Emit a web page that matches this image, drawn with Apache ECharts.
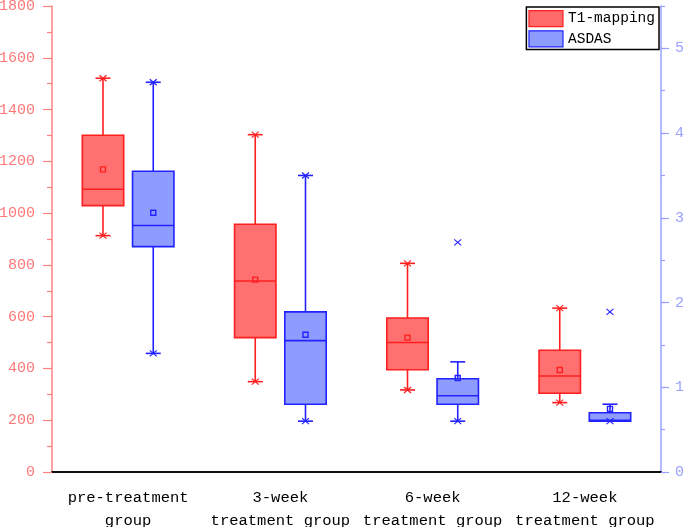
<!DOCTYPE html>
<html>
<head>
<meta charset="utf-8">
<script src="https://cdn.jsdelivr.net/npm/echarts@6/dist/echarts.min.js"></script>
<style>html,body{margin:0;padding:0;background:#fff}#c{width:685px;height:527px}</style>
</head>
<body>
<div id="c"></div>
<script>
// ---- data ----
const categories = ['pre-treatment\ngroup', '3-week\ntreatment group', '6-week\ntreatment group', '12-week\ntreatment group'];
// T1-mapping (left axis)
const t1WhiskerLow  = [913, 349, 317, 268];
const t1Q1          = [1029, 519, 395, 304];
const t1Median      = [1092, 738, 500, 371];
const t1Q3          = [1301, 957, 595, 470];
const t1WhiskerHigh = [1521, 1303, 806, 633];
const t1Mean        = [1169, 743, 519, 394];
const t1Min         = [913, 349, 317, 268];
const t1Max         = [1521, 1303, 806, 633];
// ASDAS (right axis)
const asdasWhiskerLow  = [1.40, 0.60, 0.60, 0.60];
const asdasQ1          = [2.66, 0.80, 0.80, 0.60];
const asdasMedian      = [2.91, 1.55, 0.90, 0.61];
const asdasQ3          = [3.55, 1.89, 1.10, 0.70];
const asdasWhiskerHigh = [4.60, 3.50, 1.30, 0.80];
const asdasMean        = [3.06, 1.62, 1.11, 0.745];
const asdasMin         = [1.40, 0.60, 0.60, 0.60];
const asdasMax         = [4.60, 3.50, 2.71, 1.89];

const leftTicks = {min: 0, max: 1800, interval: 200};
const rightTicks = {min: 0, max: 5.5, interval: 1};
const rightLabels = [0, 1, 2, 3, 4, 5];

function rows(lo, q1, med, q3, hi, mean, mn, mx) {
  return categories.map((c, i) => [i, lo[i], q1[i], med[i], q3[i], hi[i], mean[i], mn[i], mx[i]]);
}

function makeRender(fill, stroke, dir) {
  return function (params, api) {
    const idx = api.value(0);
    const band = api.size([1, 0])[0];
    const cx = api.coord([idx, 0])[0] + dir * band * 0.165;
    const hw = band * 0.136;
    const Y = v => api.coord([idx, v])[1];
    const lo = api.value(1), q1 = api.value(2), med = api.value(3), q3 = api.value(4),
          hi = api.value(5), mean = api.value(6), mn = api.value(7), mx = api.value(8);
    const lw = 1.6;
    const line = (x1, y1, x2, y2, w) => ({type: 'line', shape: {x1, y1, x2, y2}, style: {stroke, lineWidth: w || lw}});
    const ch = [];
    ch.push(line(cx, Y(q3), cx, Y(hi)));
    ch.push(line(cx, Y(q1), cx, Y(lo)));
    ch.push(line(cx - 7.5, Y(hi), cx + 7.5, Y(hi)));
    ch.push(line(cx - 7.5, Y(lo), cx + 7.5, Y(lo)));
    ch.push({type: 'rect', shape: {x: cx - hw, y: Y(q3), width: 2 * hw, height: Y(q1) - Y(q3)},
             style: {fill, stroke, lineWidth: lw}});
    ch.push(line(cx - hw, Y(med), cx + hw, Y(med)));
    [mn, mx].forEach(v => {
      const yy = Y(v);
      ch.push(line(cx - 3.5, yy - 3, cx + 3.5, yy + 3, 1.2));
      ch.push(line(cx - 3.5, yy + 3, cx + 3.5, yy - 3, 1.2));
    });
    const ym = Y(mean);
    ch.push({type: 'rect', shape: {x: cx - 2.5, y: ym - 2.5, width: 5, height: 5},
             style: {fill: 'none', stroke, lineWidth: 1.4}});
    return {type: 'group', children: ch};
  };
}

const FONT = 'Liberation Mono';
const redFill = '#ff7070', redStroke = '#ff1f1f';
const blueFill = '#8e9cff', blueStroke = '#2222ff';

const chart = echarts.init(document.getElementById('c'), null, {renderer: 'canvas'});
chart.setOption({
  animation: false,
  backgroundColor: '#fff',
  grid: {left: 52, right: 24, top: 6, bottom: 55, containLabel: false, outerBoundsMode: 'none'},
  legend: {
    right: 26, top: 7, orient: 'vertical',
    backgroundColor: '#fff', borderColor: '#000', borderWidth: 1.5,
    padding: [3, 4, 2, 2], itemGap: 3, itemWidth: 34, itemHeight: 16,
    textStyle: {fontFamily: FONT, fontSize: 14.5, color: '#000', padding: [0, 0, 0, 0]},
    data: [
      {name: 'T1-mapping', icon: 'rect', itemStyle: {color: '#ff6a6a', borderColor: redStroke, borderWidth: 1.2}},
      {name: 'ASDAS', icon: 'rect', itemStyle: {color: '#8c9cff', borderColor: blueStroke, borderWidth: 1.2}}
    ]
  },
  xAxis: [{
    type: 'category', data: categories, boundaryGap: true,
    axisLine: {lineStyle: {color: '#000', width: 1.5}},
    axisTick: {alignWithLabel: true, length: 7, lineStyle: {color: '#000', width: 1.2}},
    axisLabel: {fontFamily: FONT, fontSize: 15.5, color: '#000', lineHeight: 23, margin: 14, interval: 0},
    splitLine: {show: false}
  }, {
    type: 'category', data: categories, position: 'top',
    axisLine: {lineStyle: {color: '#000', width: 1.5}},
    axisTick: {show: false}, axisLabel: {show: false}, splitLine: {show: false}
  }],
  yAxis: [{
    type: 'value', position: 'left', min: leftTicks.min, max: leftTicks.max, interval: leftTicks.interval,
    axisLine: {show: true, lineStyle: {color: '#ff8080', width: 1.5}},
    axisTick: {show: true, inside: false, length: 9, lineStyle: {color: '#ff8080', width: 1.2}},
    minorTick: {show: true, splitNumber: 2, length: 5, lineStyle: {color: '#ff8080', width: 1.2}},
    axisLabel: {fontFamily: FONT, fontSize: 15, color: '#ff7878', margin: 17, formatter: v => String(v)},
    splitLine: {show: false}
  }, {
    type: 'value', position: 'right', min: rightTicks.min, max: rightTicks.max, interval: rightTicks.interval,
    axisLine: {show: true, lineStyle: {color: '#9aa0ff', width: 1.5}},
    axisTick: {show: true, inside: false, length: 8, customValues: rightLabels, lineStyle: {color: '#9aa0ff', width: 1.2}},
    axisLabel: {fontFamily: FONT, fontSize: 15, color: '#9aa0ff', margin: 14, customValues: rightLabels, formatter: v => String(v)},
    splitLine: {show: false}
  }, {
    type: 'value', position: 'right', min: rightTicks.min, max: rightTicks.max, interval: rightTicks.interval / 2,
    axisLine: {show: false},
    axisTick: {show: true, inside: false, length: 4, lineStyle: {color: '#9aa0ff', width: 1.2}},
    axisLabel: {show: false},
    splitLine: {show: false}
  }],
  series: [{
    name: 'T1-mapping', type: 'custom', xAxisIndex: 0, yAxisIndex: 0,
    itemStyle: {color: '#ff6a6a', borderColor: redStroke},
    renderItem: makeRender(redFill, redStroke, -1),
    encode: {x: 0, y: [1, 2, 3, 4, 5, 6, 7, 8]},
    data: rows(t1WhiskerLow, t1Q1, t1Median, t1Q3, t1WhiskerHigh, t1Mean, t1Min, t1Max)
  }, {
    name: 'ASDAS', type: 'custom', xAxisIndex: 0, yAxisIndex: 1,
    itemStyle: {color: '#8c9cff', borderColor: blueStroke},
    renderItem: makeRender(blueFill, blueStroke, 1),
    encode: {x: 0, y: [1, 2, 3, 4, 5, 6, 7, 8]},
    data: rows(asdasWhiskerLow, asdasQ1, asdasMedian, asdasQ3, asdasWhiskerHigh, asdasMean, asdasMin, asdasMax)
  }]
});
</script>
</body>
</html>
